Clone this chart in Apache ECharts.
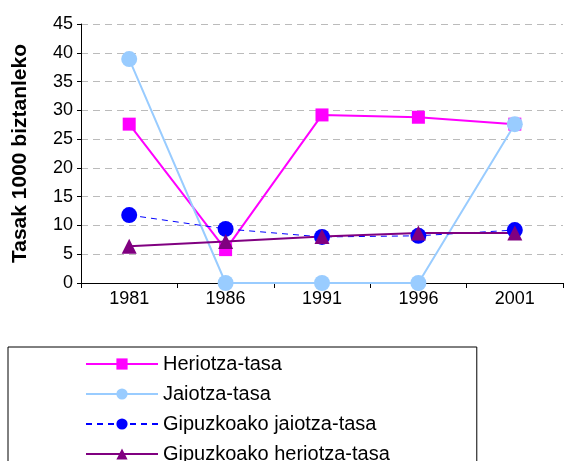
<!DOCTYPE html>
<html>
<head>
<meta charset="utf-8">
<script src="https://cdn.jsdelivr.net/npm/echarts@6/dist/echarts.min.js"></script>
<style>
  html, body { margin: 0; padding: 0; background: #fff; }
  #chart { width: 564px; height: 461px; }
</style>
</head>
<body>
<div id="chart"></div>
<script>
var years = ['1981', '1986', '1991', '1996', '2001'];
var heriotza = [27.6, 5.8, 29.2, 28.8, 27.6];
var jaiotza = [38.9, 0, 0, 0, 27.6];
var gipJaiotza = [11.8, 9.4, 8.0, 8.2, 9.2];
var gipHeriotza = [6.4, 7.2, 8.1, 8.7, 8.7];

var font = '"Liberation Sans", Arial, sans-serif';
var chart = echarts.init(document.getElementById('chart'));

var option = {
    animation: false,
    textStyle: { fontFamily: font },
    grid: { left: 81, right: 1, top: 24, bottom: 178 },
    legend: {
        orient: 'vertical',
        left: 8,
        top: 347,
        height: 300,
        padding: [7, 87, 30, 77],
        borderColor: '#000',
        borderWidth: 1,
        itemWidth: 72,
        itemHeight: 14,
        itemGap: 10,
        textStyle: { fontSize: 20, color: '#000', fontFamily: font },
        data: ['Heriotza-tasa', 'Jaiotza-tasa', 'Gipuzkoako jaiotza-tasa', 'Gipuzkoako heriotza-tasa']
    },
    xAxis: {
        type: 'category',
        data: years,
        boundaryGap: true,
        axisLine: { lineStyle: { color: '#000', width: 1 } },
        axisTick: { show: true, length: 5, lineStyle: { color: '#000' } },
        axisLabel: { color: '#000', fontSize: 18, margin: 7 }
    },
    yAxis: {
        type: 'value',
        min: 0,
        max: 45,
        interval: 5,
        name: 'Tasak 1000 biztanleko',
        nameLocation: 'middle',
        nameGap: 50,
        nameTextStyle: { fontSize: 21, fontWeight: 'bold', color: '#000' },
        axisLine: { show: true, lineStyle: { color: '#000', width: 1 } },
        axisTick: { show: true, length: 4, lineStyle: { color: '#000' } },
        axisLabel: { color: '#000', fontSize: 18, margin: 8 },
        splitLine: { lineStyle: { color: '#bbb', type: [7, 5] } }
    },
    series: [
        {
            name: 'Heriotza-tasa',
            type: 'line',
            data: heriotza,
            symbol: 'rect',
            symbolSize: 13,
            color: '#ff00ff',
            lineStyle: { width: 2, color: '#ff00ff' },
            itemStyle: { color: '#ff00ff' }
        },
        {
            name: 'Jaiotza-tasa',
            type: 'line',
            data: jaiotza,
            symbol: 'circle',
            symbolSize: 16,
            color: '#99ccff',
            lineStyle: { width: 2, color: '#99ccff' },
            itemStyle: { color: '#99ccff' }
        },
        {
            name: 'Gipuzkoako jaiotza-tasa',
            type: 'line',
            data: gipJaiotza,
            symbol: 'circle',
            symbolSize: 16,
            color: '#0000ff',
            lineStyle: { width: 1, color: '#0000ff', type: [6, 5] },
            itemStyle: { color: '#0000ff' }
        },
        {
            name: 'Gipuzkoako heriotza-tasa',
            type: 'line',
            data: gipHeriotza,
            symbol: 'triangle',
            symbolSize: 15,
            color: '#800080',
            lineStyle: { width: 2, color: '#800080' },
            itemStyle: { color: '#800080' }
        }
    ]
};

chart.setOption(option);
</script>
</body>
</html>
